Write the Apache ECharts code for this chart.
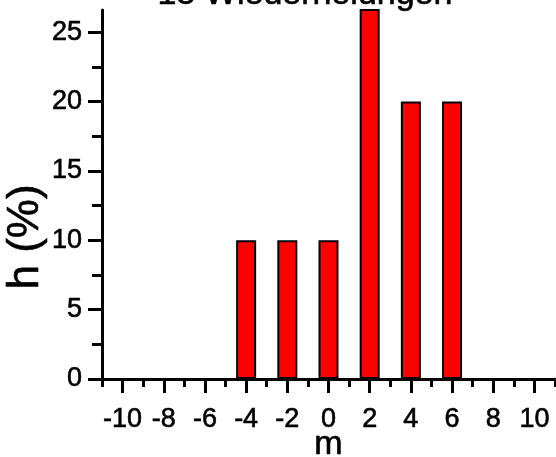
<!DOCTYPE html>
<html>
<head>
<meta charset="utf-8">
<script src="https://cdn.jsdelivr.net/npm/echarts@6/dist/echarts.min.js"></script>
<style>
  html, body { margin: 0; padding: 0; background: #fff; }
  #chart { width: 556px; height: 457px; }
</style>
</head>
<body>
<div id="chart"></div>
<script>
// Histogram of outcomes m after 15 repetitions (relative frequency h in %)
const mValues   = [-4, -2, 0, 2, 4, 6];
const hPercent  = [10, 10, 10, 30, 20, 20];

// Axis ticks and labels
const xMajorTicks = [-10, -8, -6, -4, -2, 0, 2, 4, 6, 8, 10];
const xMinorTicks = [-11, -9, -7, -5, -3, -1, 1, 3, 5, 7, 9, 11];
const yMajorTicks = [0, 5, 10, 15, 20, 25];
const yMinorTicks = [2.5, 7.5, 12.5, 17.5, 22.5];

const titleText = '15 Wiederholungen';
const xName = 'm';
const yName = 'h (%)';

const FONT = 'Liberation Sans, Arial, sans-serif';
const X_MIN = -11, X_MAX = 11;
const Y_MIN = 0, Y_MAX = 26.6;

const chart = echarts.init(document.getElementById('chart'), null, { renderer: 'canvas' });

const lineStyle = { color: '#000', width: 3 };
// slight outline to give the text a heavier weight
const heavy = { textBorderColor: '#000', textBorderWidth: 0.6 };

chart.setOption({
  animation: false,
  backgroundColor: '#fff',
  title: {
    text: titleText,
    left: 305,
    top: -22,
    padding: 0,
    textAlign: 'center',
    textStyle: Object.assign({ fontFamily: FONT, fontSize: 34, fontWeight: 'normal', color: '#000' }, heavy)
  },
  grid: { left: 102, right: 1, top: 10, bottom: 78, containLabel: false, outerBoundsMode: 'none' },
  xAxis: [
    {
      type: 'value', position: 'bottom',
      min: X_MIN, max: X_MAX,
      name: xName, nameLocation: 'middle', nameGap: 49, nameMoveOverlap: false,
      nameTextStyle: Object.assign({ fontFamily: FONT, fontSize: 34, color: '#000' }, heavy),
      axisLine: { show: true, onZero: false, lineStyle: lineStyle },
      axisTick: { show: true, inside: false, length: 14, lineStyle: lineStyle, customValues: xMajorTicks },
      axisLabel: Object.assign({ show: true, margin: 27, fontFamily: FONT, fontSize: 27, color: '#000', customValues: xMajorTicks }, heavy),
      splitLine: { show: false }
    },
    {
      type: 'value', position: 'bottom',
      min: X_MIN, max: X_MAX,
      axisLine: { show: false, onZero: false },
      axisTick: { show: true, inside: false, length: 8, lineStyle: lineStyle, customValues: xMinorTicks },
      axisLabel: { show: false },
      splitLine: { show: false }
    }
  ],
  yAxis: [
    {
      type: 'value', position: 'left',
      min: Y_MIN, max: Y_MAX,
      axisLine: { show: true, onZero: false, lineStyle: lineStyle },
      axisTick: { show: true, inside: false, length: 14, lineStyle: lineStyle, customValues: yMajorTicks },
      axisLabel: Object.assign({ show: true, margin: 20, fontFamily: FONT, fontSize: 27, color: '#000', customValues: yMajorTicks }, heavy),
      splitLine: { show: false }
    },
    {
      type: 'value', position: 'left',
      min: Y_MIN, max: Y_MAX,
      axisLine: { show: false, onZero: false },
      axisTick: { show: true, inside: false, length: 10, lineStyle: lineStyle, customValues: yMinorTicks },
      axisLabel: { show: false },
      splitLine: { show: false }
    }
  ],
  graphic: [
    {
      type: 'text',
      x: 26, y: 237,
      rotation: Math.PI / 2,
      style: {
        text: yName,
        fontFamily: FONT, fontSize: 44,
        fill: '#000',
        textAlign: 'center', textVerticalAlign: 'middle',
        stroke: '#000', lineWidth: 0.6
      }
    }
  ],
  series: [
    {
      type: 'bar',
      xAxisIndex: 0, yAxisIndex: 0,
      data: mValues.map((m, i) => [m, hPercent[i]]),
      barWidth: 20,
      clip: true,
      itemStyle: { color: '#ff0000', borderColor: '#000', borderWidth: 2 }
    }
  ]
});
</script>
</body>
</html>
